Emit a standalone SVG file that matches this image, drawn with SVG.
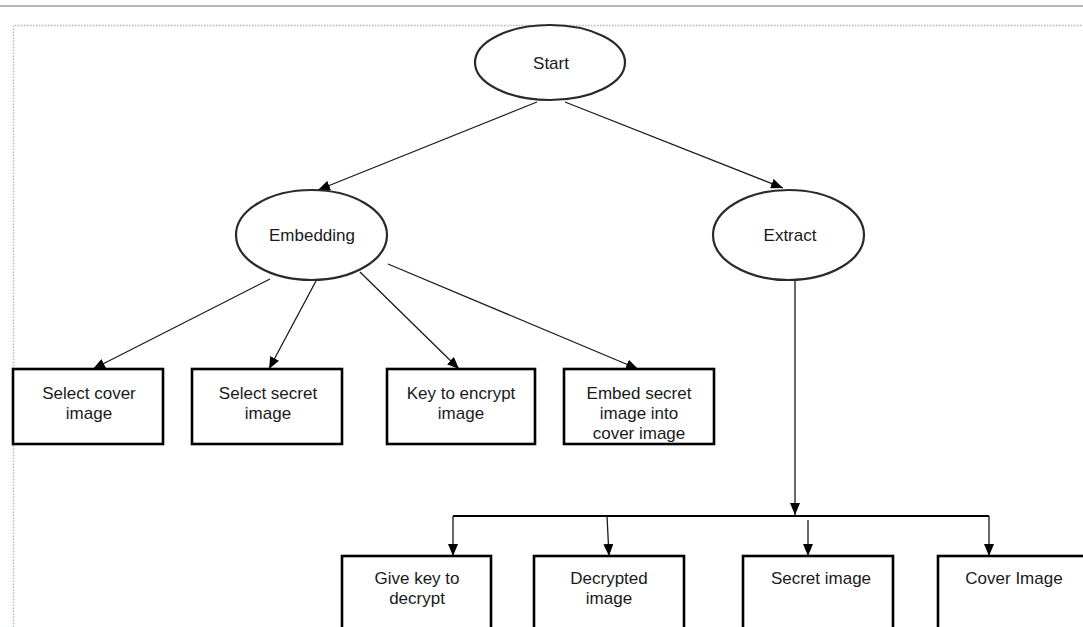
<svg xmlns="http://www.w3.org/2000/svg" width="1083" height="627" viewBox="0 0 1083 627">
<defs>
<marker id="ah" markerWidth="12" markerHeight="10" refX="12" refY="5" orient="auto" markerUnits="userSpaceOnUse">
<path d="M0,0 L12,5 L0,10 z" fill="#000"/>
</marker>
<style>
.el{fill:#fff;stroke:#2a2a2a;stroke-width:2.2}
.bx{fill:#fff;stroke:#000;stroke-width:2.6}
.t{font-family:"Liberation Sans",Arial,sans-serif;font-size:17px;fill:#1a1a1a;text-anchor:middle}
.c{fill:none;stroke:#1a1a1a;stroke-width:1.3}
.h{fill:none;stroke:#000;stroke-width:2.2}
</style>
</defs>
<rect x="0" y="0" width="1083" height="627" fill="#fff"/>
<line x1="0" y1="6" x2="1083" y2="6" stroke="#b4b4b4" stroke-width="2"/>
<path d="M13.5,627 V25.5 H1083" fill="none" stroke="#a9b6cc" stroke-width="1.3" stroke-dasharray="1.5,1.5"/>
<g id="connectors">
<line class="c" x1="537" y1="102" x2="318" y2="190" marker-end="url(#ah)"/>
<line class="c" x1="565" y1="102" x2="783" y2="188" marker-end="url(#ah)"/>
<line class="c" x1="270" y1="279" x2="93" y2="369" marker-end="url(#ah)"/>
<line class="c" x1="316" y1="281" x2="269" y2="369" marker-end="url(#ah)"/>
<line class="c" x1="360" y1="272" x2="459" y2="369" marker-end="url(#ah)"/>
<line class="c" x1="388" y1="264" x2="638" y2="369" marker-end="url(#ah)"/>
<line class="c" x1="795" y1="280" x2="795" y2="515" marker-end="url(#ah)"/>
<line class="h" x1="453" y1="516" x2="989" y2="516"/>
<line class="c" x1="453" y1="516" x2="453" y2="556" marker-end="url(#ah)"/>
<line class="c" x1="607" y1="516" x2="609" y2="556" marker-end="url(#ah)"/>
<line class="c" x1="808" y1="520" x2="808" y2="556" marker-end="url(#ah)"/>
<line class="c" x1="989" y1="516" x2="989" y2="556" marker-end="url(#ah)"/>
</g>
<g id="start"><ellipse class="el" cx="550" cy="62.5" rx="75" ry="37.5"/><text class="t" x="551" y="69">Start</text></g>
<g id="embedding"><ellipse class="el" cx="311.5" cy="235" rx="75.5" ry="45"/><text class="t" x="312" y="241">Embedding</text></g>
<g id="extract"><ellipse class="el" cx="788.5" cy="235" rx="75.5" ry="45"/><text class="t" x="790" y="241">Extract</text></g>
<g id="select-cover"><rect class="bx" x="13" y="369" width="150" height="75"/><text class="t" x="89" y="399">Select cover</text><text class="t" x="89" y="419">image</text></g>
<g id="select-secret"><rect class="bx" x="192" y="369" width="150" height="75"/><text class="t" x="268" y="399">Select secret</text><text class="t" x="268" y="419">image</text></g>
<g id="key-encrypt"><rect class="bx" x="387" y="369" width="148" height="75"/><text class="t" x="461" y="399">Key to encrypt</text><text class="t" x="461" y="419">image</text></g>
<g id="embed-secret"><rect class="bx" x="564" y="369" width="150" height="75"/><text class="t" x="639" y="399">Embed secret</text><text class="t" x="639" y="419">image into</text><text class="t" x="639" y="439">cover image</text></g>
<g id="give-key"><rect class="bx" x="342" y="556" width="149" height="100"/><text class="t" x="417" y="584">Give key to</text><text class="t" x="417" y="604">decrypt</text></g>
<g id="decrypted"><rect class="bx" x="534" y="556" width="150" height="100"/><text class="t" x="609" y="584">Decrypted</text><text class="t" x="609" y="604">image</text></g>
<g id="secret-image"><rect class="bx" x="743" y="556" width="150" height="100"/><text class="t" x="821" y="584">Secret image</text></g>
<g id="cover-image"><rect class="bx" x="938" y="556" width="150" height="100"/><text class="t" x="1014" y="584">Cover Image</text></g>
</svg>
